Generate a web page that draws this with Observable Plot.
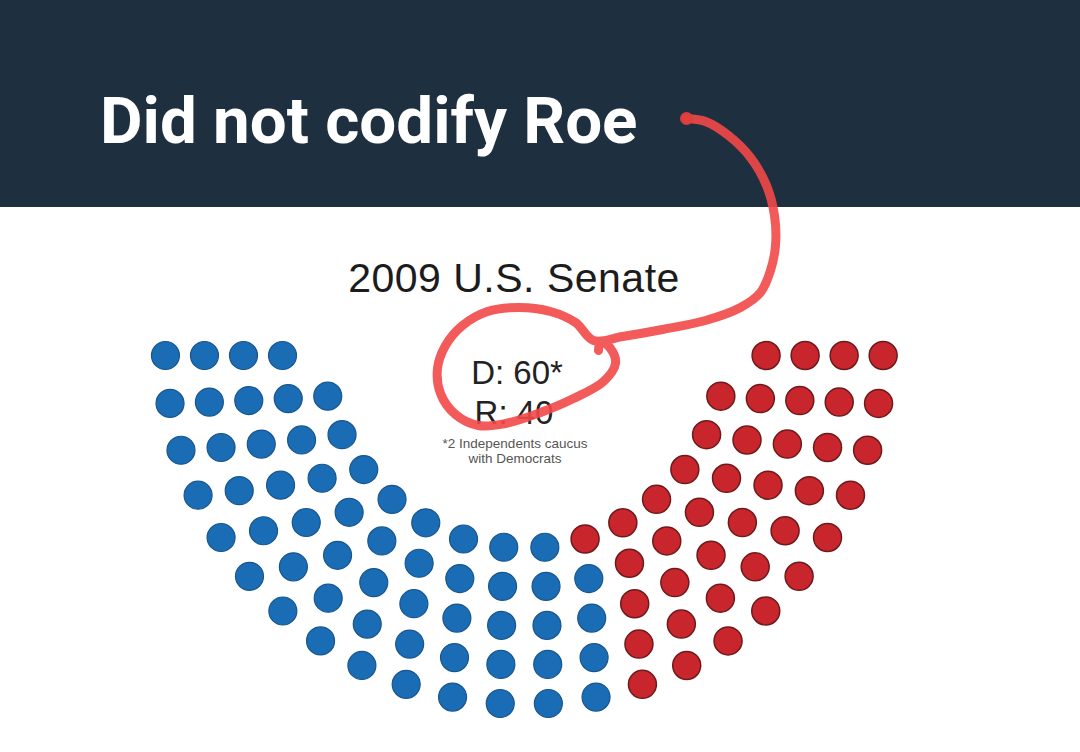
<!DOCTYPE html>
<html>
<head>
<meta charset="utf-8">
<script src="https://cdn.jsdelivr.net/npm/d3@7"></script>
<script src="https://cdn.jsdelivr.net/npm/@observablehq/plot@0.6"></script>
<style>
  html, body { margin: 0; padding: 0; background: #fff; }
  #page { position: relative; width: 1080px; height: 752px; overflow: hidden; background: #fff; }
  #header { position: absolute; left: 0; top: 0; width: 1080px; height: 207px; background: #1e3040; }
  .t { position: absolute; white-space: nowrap; line-height: 1; }
  #title { left: 100px; top: 82px; font: 700 65.5px Roboto, sans-serif; color: #fff; }
  .c { width: 400px; text-align: center; }
  #sub { left: 314px; top: 255px; font: 400 41px "Liberation Sans", Arial, sans-serif; color: #1c1c1c; letter-spacing: 0.5px; }
  #dlab { left: 317px; top: 354px; font: 400 33px "Liberation Sans", Arial, sans-serif; color: #222; }
  #rlab { left: 314px; top: 394px; font: 400 33px "Liberation Sans", Arial, sans-serif; color: #222; }
  #note1 { left: 315px; top: 436px; font: 400 13.5px "Liberation Sans", Arial, sans-serif; color: #555; }
  #note2 { left: 315px; top: 451px; font: 400 13.5px "Liberation Sans", Arial, sans-serif; color: #555; }
  #chart { position: absolute; left: 0; top: 0; width: 1080px; height: 752px; }
</style>
</head>
<body>
<div id="page">
  <div id="header"></div>
  <div id="title" class="t"></div>
  <div id="sub" class="t c"></div>
  <div id="dlab" class="t c"></div>
  <div id="rlab" class="t c"></div>
  <div id="note1" class="t c"></div>
  <div id="note2" class="t c"></div>
  <div id="chart"></div>
</div>
<script>
// ---- data ----
const headline = "Did not codify Roe";
const chartTitle = "2009 U.S. Senate";
const parties = ["D", "R"];
const seatCounts = [58, 40];        // seats drawn
const independents = 2;             // caucus with Democrats
const footnote = ["*2 Independents caucus", "with Democrats"];
const ringSeats = [14, 18, 20, 22, 24];   // seats per ring, inner to outer

// hand-drawn annotation stroke (sketch points)
const annotationX = [686, 705, 728, 750, 766, 774, 775, 770, 760, 740, 705, 662, 622, 593,
                     575, 550, 518, 487, 462, 445, 437, 440, 455, 478, 505, 540, 573, 603, 615, 610, 600, 598];
const annotationY = [118, 121, 135, 157, 185, 215, 245, 270, 292, 307, 320, 329, 336, 340,
                     322, 311, 307, 311, 325, 345, 368, 393, 414, 425, 423, 412, 398, 381, 363, 348, 341, 350];

// ---- layout ----
const W = 1080, H = 752;
const cx = 523.8, cy = 344.8;
const innerR = 203, ringGap = 39;
const innerStart = 14.5 * Math.PI / 180;
const edgeOffset = 10.2;

document.getElementById("title").textContent = headline;
document.getElementById("sub").textContent = chartTitle;
document.getElementById("dlab").textContent = `${parties[0]}: ${seatCounts[0] + independents}*`;
document.getElementById("rlab").textContent = `${parties[1]}: ${seatCounts[1]}`;
document.getElementById("note1").textContent = footnote[0];
document.getElementById("note2").textContent = footnote[1];

const seats = [];
ringSeats.forEach((n, i) => {
  const r = innerR + i * ringGap;
  const a0 = i === 0 ? innerStart : Math.asin(edgeOffset / r);
  const step = (Math.PI - 2 * a0) / (n - 1);
  for (let j = 0; j < n; j++) {
    const a = a0 + j * step;
    seats.push({angle: a, x: -r * Math.cos(a), y: r * Math.sin(a)});
  }
});
seats.sort((a, b) => a.angle - b.angle);
let k = 0;
parties.forEach((p, pi) => { for (let s = 0; s < seatCounts[pi]; s++) seats[k++].party = p; });

const annotation = annotationX.map((x, i) => ({x: x - cx, y: annotationY[i] - cy}));

const chart = Plot.plot({
  width: W, height: H, margin: 0,
  style: {background: "transparent", overflow: "visible"},
  x: {domain: [-cx, W - cx], range: [0, W], axis: null},
  y: {domain: [-cy, H - cy], range: [0, H], axis: null},
  color: {domain: parties, range: ["#1a6db5", "#c8262c"]},
  marks: [
    Plot.dot(seats.filter(d => d.party === parties[0]), {x: "x", y: "y", r: 14, fill: "party", stroke: "#17558e", strokeWidth: 1.2}),
    Plot.dot(seats.filter(d => d.party === parties[1]), {x: "x", y: "y", r: 14, fill: "party", stroke: "#6e1a1c", strokeWidth: 1.5}),
    Plot.line(annotation, {x: "x", y: "y", curve: "catmull-rom", stroke: "#f24848", strokeOpacity: 0.9,
      strokeWidth: 9, strokeLinecap: "round", strokeLinejoin: "round"}),
    Plot.dot(annotation.slice(0, 1), {x: "x", y: "y", r: 6.5, fill: "#e23e3e", fillOpacity: 0.95})
  ]
});
document.getElementById("chart").appendChild(chart);
</script>
</body>
</html>
